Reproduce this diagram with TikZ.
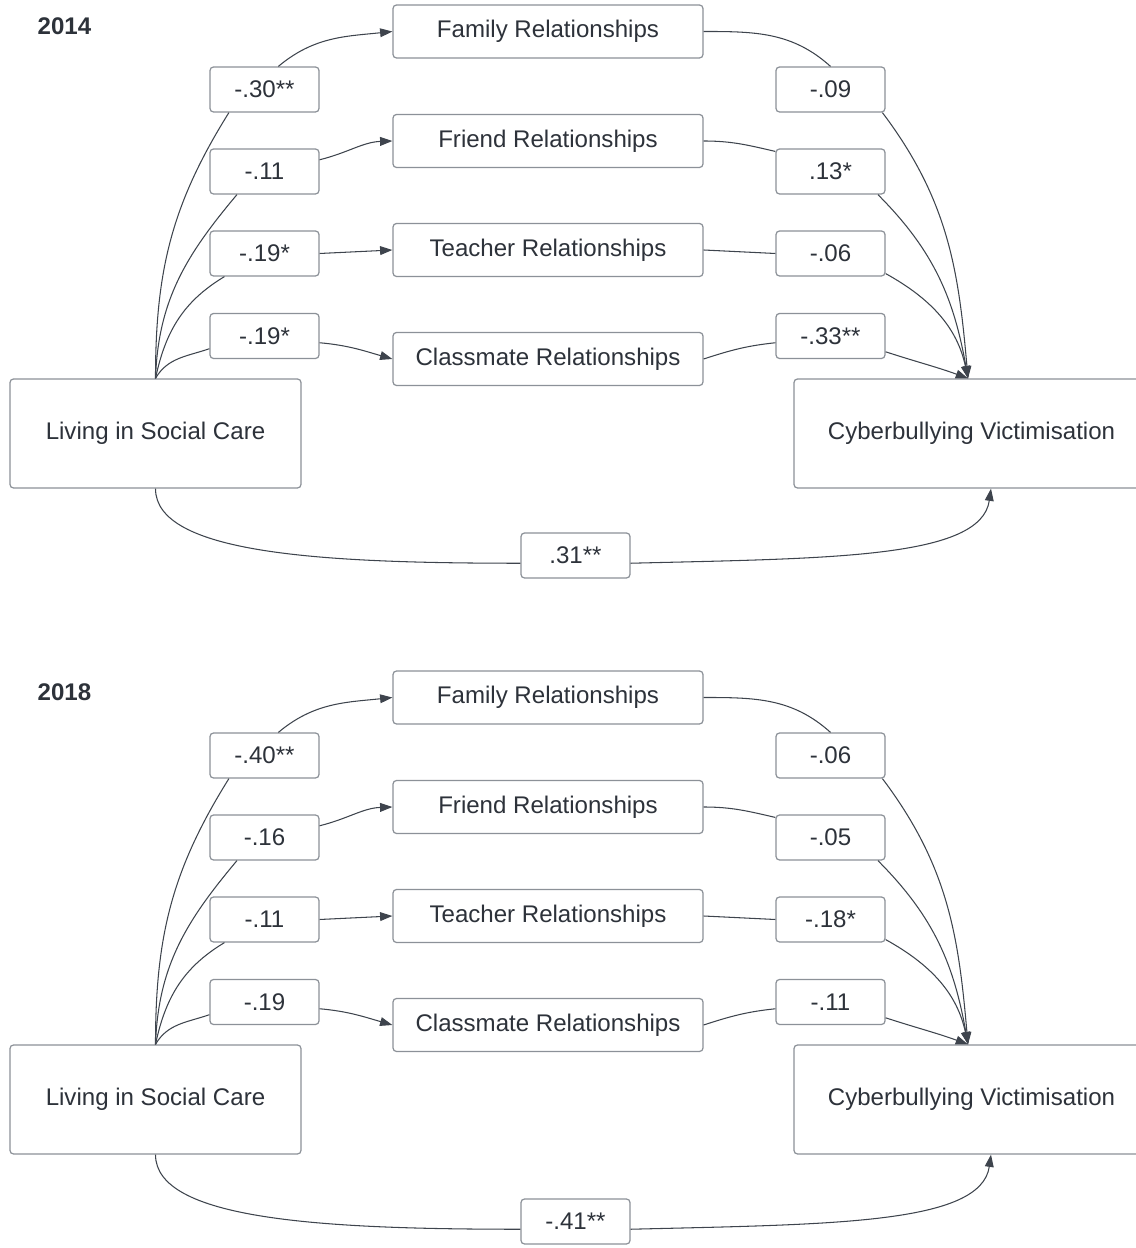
\documentclass[tikz,border=0pt]{standalone}
\usepackage{fontspec}
\setmainfont{Liberation Sans}
\usetikzlibrary{arrows.meta, positioning}
\definecolor{line1}{RGB}{62,68,77}
\definecolor{border1}{RGB}{140,145,152}
\definecolor{text1}{RGB}{45,50,58}

\begin{document}
\begin{tikzpicture}[
    every node/.style={font=\fontsize{13.7}{16}\selectfont, text=text1},
    varbox/.style={draw=border1, fill=white, rounded corners=2pt, line width=0.7pt, minimum width=5.82cm, minimum height=2.18cm},
    relbox/.style={varbox, minimum width=6.2cm, minimum height=1.06cm},
    coef/.style={varbox, minimum width=2.18cm, minimum height=0.9cm},
    link/.style={draw=line1, line width=0.6pt},
    arrow/.style={link, -{Triangle[length=7pt, width=5pt]}}
]
\useasboundingbox (0,0) rectangle (22.72,24.96);

\foreach \yr/\dy/\ca/\cb/\cc/\cd/\ce/\cf/\cg/\ch/\ct in {
    2014/0/-.30**/-.11/-.19*/-.19*/-.09/.13*/-.06/-.33**/.31**,
    2018/-13.32/-.40**/-.16/-.11/-.19/-.06/-.05/-.18*/-.11/-.41**}{
  \begin{scope}[yshift=\dy cm]
    \node[font=\fontsize{13.7}{16}\selectfont\bfseries, name=year] at(1.29,24.43) {\yr};

    \node[relbox, name=family] at(10.96,24.33) {Family Relationships};
    \node[relbox, name=friend] at(10.96,22.14) {Friend Relationships};
    \node[relbox, name=teacher] at(10.96,19.96) {Teacher Relationships};
    \node[relbox, name=classmate] at(10.96,17.78) {Classmate Relationships};

    \node[varbox, name=care] at(3.11,16.29) {Living in Social Care};
    \node[varbox, minimum width=7.1cm, name=cyber] at(19.43,16.29) {Cyberbullying Victimisation};

    \node[coef, name=a1] at(5.29,23.17) {\ca};
    \node[coef, name=a2] at(5.29,21.53) {\cb};
    \node[coef, name=a3] at(5.29,19.89) {\cc};
    \node[coef, name=a4] at(5.29,18.24) {\cd};
    \node[coef, name=b1] at(16.61,23.17) {\ce};
    \node[coef, name=b2] at(16.61,21.53) {\cf};
    \node[coef, name=b3] at(16.61,19.89) {\cg};
    \node[coef, name=b4] at(16.61,18.24) {\ch};
    \node[coef, name=total] at(11.51,13.85) {\ct};

    % care -> relationships
    \draw[link] (care.north) to[out=90, in=238] (a1.213);
    \draw[arrow] (a1.59) to[out=40, in=186] (family.west);
    \draw[link] (care.north) to[out=88, in=230] (a2.220);
    \draw[arrow] (a2.12) to[out=14, in=182] (friend.west);
    \draw[link] (care.north) to[out=78, in=211] (a3.210);
    \draw[arrow] (a3.east) -- (teacher.west);
    \draw[link] (care.north) to[out=60, in=199] (a4.193);
    \draw[arrow] (a4.353) to[out=-5, in=164] (classmate.west);

    % relationships -> cyberbullying
    \draw[link] (family.east) to[out=0, in=138] (b1.north);
    \draw[arrow] (b1.336) to[out=-53, in=95] ([xshift=-0.07cm]cyber.north);
    \draw[link] (friend.east) to[out=0, in=167] (b2.160);
    \draw[arrow] (b2.334) to[out=-45, in=100] ([xshift=-0.07cm]cyber.north);
    \draw[link] (teacher.east) -- (b3.west);
    \draw[arrow] (b3.340) to[out=-29, in=102] ([xshift=-0.07cm]cyber.north);
    \draw[link] (classmate.east) to[out=18, in=186] (b4.187);
    \draw[arrow] (b4.344) to[out=-18, in=160] ([xshift=-0.07cm]cyber.north);

    % direct path
    \draw[link] (care.south) .. controls +(0,-1.3) and +(-4,0) .. (total.188);
    \draw[arrow] (total.352) .. controls +(4,0.1) and +(-0.2,-1.4) .. ([xshift=0.39cm]cyber.south);
  \end{scope}
}
\end{tikzpicture}
\end{document}
